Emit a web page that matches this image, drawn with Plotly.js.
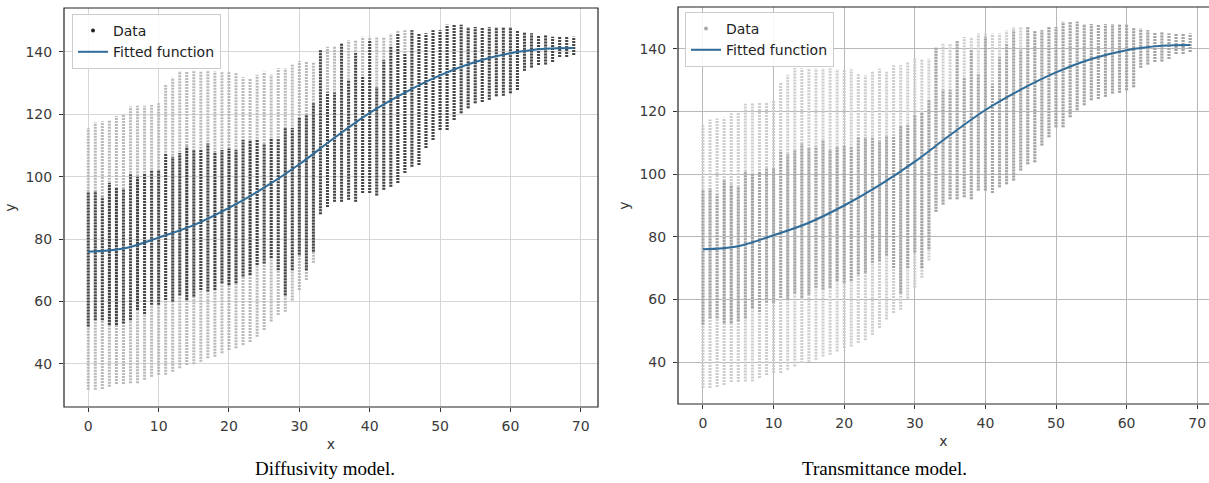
<!DOCTYPE html>
<html>
<head>
<meta charset="utf-8">
<script src="https://cdn.plot.ly/plotly-3.0.1.min.js"></script>
<style>html,body{margin:0;padding:0;background:#fff;}#chart{width:1209px;height:483px;}</style>
</head>
<body>
<div id="chart"></div>
<script>
// x positions of the data columns
const xCols = [0,1,2,3,4,5,6,7,8,9,10,11,12,13,14,15,16,17,18,19,20,21,22,23,24,25,26,27,28,29,30,31,32,33,34,35,36,37,38,39,40,41,42,43,44,45,46,47,48,49,50,51,52,53,54,55,56,57,58,59,60,61,62,63,64,65,66,67,68,69];
// lowest / highest data value in each column
const colMin = [31.7,31.7,32,32.7,33.6,33.6,33.8,33.8,34.9,35.9,36.5,36.5,37.5,38.6,39.7,39.9,40.7,41.8,42.3,43.4,44.5,45,46.1,47,48.7,50.9,53.6,55.7,56.7,60.3,63.7,66.9,72.4,88,90.3,92,92,92.6,92,94.8,94.8,94,95.8,96.8,98,101.2,103.2,103.8,109.2,111.8,115,115,118.2,120.4,122,123.6,124,124.7,125.8,126,126.8,127.8,134,135,135.8,136,136.8,138.4,138.4,139];
const colMax = [115.6,117.5,117.8,118,119.5,120,122.5,122.8,122.8,123,123.6,129.4,131.8,133.9,133.8,133.8,133.8,133.8,133.8,133.5,133.5,133.5,131.9,131.6,132.7,133.7,132.7,134.8,134.8,135.9,137,136.9,136.9,140.6,141.7,141.7,142.8,143.8,143.8,144.9,144.9,144.9,144.9,145.9,147,147,147,146,146,147,147,148.7,148.7,148.7,148,148,148,148,148,148,148,146.7,146.5,146,145.4,145.4,144.9,144.9,144.9,144.9];
// dense (dark) part of each column
const denseLo = [52,54,54,52.5,52.5,53,54,57.3,56,59,59,60.5,60,62,60.5,61.6,63.7,63.2,63.7,65.9,65.3,65.9,68,68.5,71.7,72.2,74,70,62,70,75,70,76,88,90.3,92,92,92.6,92,94.8,94.8,94,95.8,96.8,98,101.2,103.2,103.8,109.2,111.8,115,115,118.2,120.4,122,123.6,124,124.7,125.8,126,126.8,127.8,134,135,135.8,136,136.8,138.4,138.4,139];
const denseHi = [95,95.4,93.6,98,96.7,96,101,100,101,102,102,107.6,106.4,107.6,109.7,108.6,108.9,110.7,108,108.6,109,108.6,111.8,111.8,111.8,110.7,112.3,112.3,115.6,115.6,118.8,119.8,123.6,140.6,127,127,142.8,131,139.7,132,143.8,128.8,137.4,141.6,146,139.7,147,146,146,147,147,148.7,148.7,148.7,148,148,148,148,148,148,148,146.7,146.5,146,145.4,145.4,144.9,144.9,144.9,144.9];
// fitted function samples
const fitX = [0,5,10,15,20,25,30,35,40,45,50,55,60,65,69];
const fitY = [76,77,80.5,84.5,90,96.5,104,112.5,120.5,127,132.5,136.8,139.6,141,141.3];
const xTicks = [0,10,20,30,40,50,60,70];
const yTicks = [40,60,80,100,120,140];
const captions = ['Diffusivity model.', 'Transmittance model.'];

function segs(lo, hi) {
  const xs = [], ys = [];
  for (let i = 0; i < xCols.length; i++) {
    xs.push(xCols[i], xCols[i], null);
    ys.push(lo[i], hi[i], null);
  }
  return {x: xs, y: ys};
}
const full = segs(colMin, colMax);
const dense = segs(denseLo, denseHi);

const W = 1209, H = 483;
const traces = [];
function addPanel(xa, ya, lightCol, darkCol, legendName, markerCol) {
  traces.push({x: full.x, y: full.y, xaxis: xa, yaxis: ya, mode: 'lines', showlegend: false, hoverinfo: 'skip',
    line: {color: lightCol, width: 3, dash: '2px,1px'}});
  traces.push({x: dense.x, y: dense.y, xaxis: xa, yaxis: ya, mode: 'lines', showlegend: false, hoverinfo: 'skip',
    line: {color: darkCol, width: 3, dash: '2px,1px'}});
  traces.push({x: [null], y: [null], xaxis: xa, yaxis: ya, mode: 'markers', name: 'Data', legend: legendName,
    marker: {color: markerCol, size: 4}});
  traces.push({x: fitX, y: fitY, xaxis: xa, yaxis: ya, mode: 'lines', name: 'Fitted function', legend: legendName,
    line: {color: '#2f6c99', width: 2, shape: 'spline', smoothing: 1}});
}
addPanel('x', 'y', '#b9b9b9', '#474747', 'legend', '#222');
addPanel('x2', 'y2', '#cdcdcd', '#a4a4a4', 'legend2', '#aaa');

const tickFont = {family: 'DejaVu Sans, sans-serif', size: 14, color: '#3a3a3a'};
function xAxis(domain, range, gc, anchor) {
  return {domain: domain, range: range, anchor: anchor, tickvals: xTicks, ticks: 'outside', ticklen: 4, tickcolor: '#333',
    showgrid: true, gridcolor: gc, gridwidth: 1, zeroline: false, showline: false, tickfont: tickFont, automargin: false,
    ticklabelstandoff: 2,
    title: {text: 'x', font: {family: 'DejaVu Sans, sans-serif', size: 14, color: '#333'}, standoff: 6}};
}
function yAxis(domain, range, gc, anchor) {
  return {domain: domain, range: range, anchor: anchor, tickvals: yTicks, ticks: 'outside', ticklen: 4, tickcolor: '#333',
    showgrid: true, gridcolor: gc, gridwidth: 1, zeroline: false, showline: false, tickfont: tickFont, automargin: false,
    ticklabelstandoff: 4,
    title: {text: 'y', font: {family: 'DejaVu Sans, sans-serif', size: 14, color: '#333'}, standoff: 6}};
}
const legendBase = {bordercolor: '#cccccc', borderwidth: 1, bgcolor: 'rgba(255,255,255,0.85)', xanchor: 'left', yanchor: 'top',
  font: {family: 'DejaVu Sans, sans-serif', size: 14, color: '#222'}, tracegroupgap: 0, itemwidth: 30};

const layout = {
  width: W, height: H, margin: {l: 0, r: 0, t: 0, b: 0}, paper_bgcolor: '#fff', plot_bgcolor: '#fff',
  showlegend: true,
  xaxis: xAxis([64/W, 598/W], [-3.45, 72.45], '#d6d6d6', 'y'),
  yaxis: yAxis([1-407/H, 1-8/H], [26.2, 154.1], '#d6d6d6', 'x'),
  xaxis2: xAxis([678/W, 1], [-3.54, 71.67], '#b8b8b8', 'y2'),
  yaxis2: yAxis([1-404/H, 1-7/H], [26.6, 153.4], '#b8b8b8', 'x2'),
  legend: Object.assign({x: 72/W, y: 1-14/H}, legendBase),
  legend2: Object.assign({x: 685/W, y: 1-12/H}, legendBase),
  shapes: [
    {type: 'rect', xref: 'x domain', yref: 'y domain', x0: 0, x1: 1, y0: 0, y1: 1, line: {color: '#222', width: 1.2}},
    {type: 'rect', xref: 'x2 domain', yref: 'y2 domain', x0: 0, x1: 1.05, y0: 0, y1: 1, line: {color: '#222', width: 1.2}}
  ],
  annotations: [
    {text: captions[0], xref: 'paper', yref: 'paper', x: 325/W, y: 1-468/H, showarrow: false, xanchor: 'center', yanchor: 'middle',
      font: {family: 'Liberation Serif, Times New Roman, serif', size: 19, color: '#000'}},
    {text: captions[1], xref: 'paper', yref: 'paper', x: 884/W, y: 1-468/H, showarrow: false, xanchor: 'center', yanchor: 'middle',
      font: {family: 'Liberation Serif, Times New Roman, serif', size: 19, color: '#000'}}
  ]
};
Plotly.newPlot('chart', traces, layout, {displayModeBar: false, staticPlot: true});
</script>
</body>
</html>
